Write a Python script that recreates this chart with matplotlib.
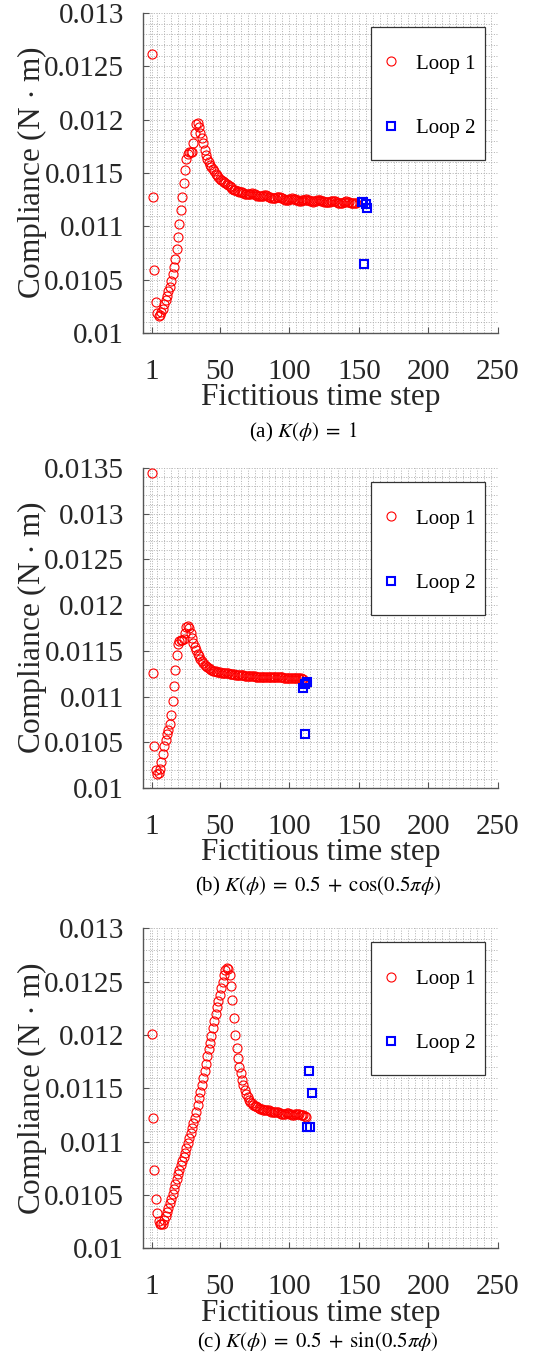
import numpy as np
import matplotlib
matplotlib.use("Agg")
import matplotlib.pyplot as plt
from matplotlib.ticker import MultipleLocator, FixedLocator
from matplotlib.patches import Rectangle

plt.rcParams['font.family'] = ['Liberation Serif', 'DejaVu Serif']
plt.rcParams['mathtext.fontset'] = 'stix'

# compliance values in units of 1e-6 N*m, one per fictitious time step
loop1_a = [12620, 11280, 10590, 10295, 10185, 10160, 10165, 10200, 10230, 10270,
           10310, 10350, 10390, 10435, 10490, 10550, 10615, 10690, 10790, 10900,
           11020, 11150, 11280, 11410, 11530, 11630, 11680, 11700, 11700, 11700,
           11780, 11880, 11960, 11970, 11930, 11880, 11830, 11780, 11720, 11670,
           11630, 11600, 11580, 11555, 11535, 11515, 11495, 11478, 11462, 11448,
           11436, 11425, 11415, 11405, 11395, 11385, 11375, 11365, 11355, 11345,
           11338, 11332, 11328, 11325, 11322, 11318, 11312, 11306, 11302, 11300,
           11302, 11306, 11310, 11308, 11302, 11295, 11288, 11283, 11281, 11282,
           11286, 11290, 11290, 11286, 11280, 11273, 11267, 11264, 11264, 11267,
           11272, 11275, 11273, 11268, 11262, 11256, 11251, 11249, 11250, 11254,
           11259, 11262, 11260, 11255, 11249, 11243, 11240, 11240, 11243, 11248,
           11252, 11253, 11250, 11245, 11239, 11235, 11233, 11234, 11238, 11243,
           11246, 11245, 11241, 11235, 11230, 11227, 11226, 11228, 11232, 11237,
           11240, 11239, 11235, 11229, 11224, 11221, 11220, 11222, 11226, 11231,
           11234, 11233, 11229, 11224, 11220, 11218, 11218, 11220]
loop2_a_x = [154, 152, 153, 155, 156]
loop2_a = [10647, 11231, 11225, 11207, 11175]

loop1_b = [13450, 11260, 10460, 10200, 10150, 10160, 10210, 10290, 10375, 10460,
           10530, 10590, 10640, 10700, 10800, 10950, 11120, 11290, 11450, 11570,
           11610, 11620, 11615, 11630, 11700, 11765, 11770, 11745, 11695, 11640,
           11590, 11545, 11505, 11470, 11440, 11415, 11390, 11370, 11350, 11335,
           11322, 11310, 11300, 11292, 11285, 11280, 11276, 11272, 11268, 11265,
           11263, 11262, 11260, 11258, 11256, 11254, 11252, 11249, 11246, 11243,
           11241, 11239, 11237, 11236, 11235, 11233, 11231, 11229, 11227, 11226,
           11225, 11224, 11223, 11222, 11220, 11219, 11218, 11217, 11216, 11215,
           11214, 11213, 11212, 11211, 11210, 11210, 11211, 11211, 11210, 11210,
           11209, 11209, 11210, 11210, 11209, 11208, 11208, 11208, 11208, 11207,
           11206, 11205, 11204, 11203, 11202, 11201, 11200, 11198, 11194, 11189]
loop2_b_x = [111, 110, 111.5, 112.5]
loop2_b = [10587, 11097, 11134, 11156]

loop1_c = [12010, 11220, 10735, 10465, 10330, 10260, 10230, 10225, 10232, 10265,
           10300, 10340, 10375, 10422, 10466, 10510, 10555, 10600, 10648, 10694,
           10738, 10780, 10820, 10858, 10898, 10944, 10990, 11038, 11082, 11130,
           11177, 11225, 11280, 11340, 11405, 11468, 11531, 11598, 11665, 11730,
           11800, 11868, 11928, 11995, 12065, 12130, 12195, 12258, 12320, 12378,
           12438, 12500, 12560, 12605, 12625, 12622, 12560, 12455, 12330, 12160,
           12000, 11880, 11780, 11700, 11640, 11580, 11530, 11485, 11450, 11420,
           11395, 11375, 11360, 11348, 11338, 11330, 11322, 11315, 11308, 11302,
           11298, 11298, 11300, 11298, 11292, 11285, 11278, 11275, 11276, 11280,
           11282, 11278, 11270, 11262, 11258, 11258, 11262, 11266, 11266, 11262,
           11256, 11252, 11252, 11256, 11260, 11260, 11256, 11250, 11246, 11246,
           11242, 11232]
loop2_c_x = [114, 116, 112.5, 114.5]
loop2_c = [11662, 11453, 11140, 11140]

captions = [r'(a) $K(\phi)\;=\;1$',
            r'(b) $K(\phi)\;=\;0.5\;+\;\cos(0.5\pi\phi)$',
            r'(c) $K(\phi)\;=\;0.5\;+\;\sin(0.5\pi\phi)$']
ytops = [0.013, 0.0135, 0.013]
xticks = [1, 50, 100, 150, 200, 250]

panels = [(loop1_a, loop2_a_x, loop2_a), (loop1_b, loop2_b_x, loop2_b), (loop1_c, loop2_c_x, loop2_c)]
bottoms = [0.7560, 0.4227, 0.0855]
cap_y = [1 - 432/1365, 1 - 886/1365, 1 - 1342/1365]
cap_x = [303/538, 318/538, 318/538]

fig = plt.figure(figsize=(5.38, 13.65), dpi=100)

for i in range(3):
  l1, x2, l2 = panels[i]
  ax = fig.add_axes([0.2664, bottoms[i], 0.6593, 0.2344])
  x1 = np.arange(1, len(l1) + 1)
  ax.plot(x1, np.array(l1) * 1e-6, 'o', color='red', mfc='none', ms=6.5, mew=0.8, label='Loop 1')
  ax.plot(x2, np.array(l2) * 1e-6, 's', color='blue', mfc='none', ms=5.5, mew=1.5, label='Loop 2')

  ax.set_xlim(-5, 250)
  ax.set_ylim(0.01, ytops[i])
  ax.xaxis.set_major_locator(FixedLocator(xticks))
  ax.xaxis.set_minor_locator(MultipleLocator(5))
  yt = list(np.round(np.arange(0.01, ytops[i] + 1e-9, 0.0005), 5))
  ax.set_yticks(yt)
  ax.set_yticklabels(['%g' % v for v in yt])
  ax.yaxis.set_minor_locator(MultipleLocator(0.0001))
  ax.grid(True, which='both', linestyle=':', color='#b0b0b0', linewidth=0.7)
  ax.set_axisbelow(True)
  for s in ['top', 'right']:
    ax.spines[s].set_visible(False)
  for s in ['left', 'bottom']:
    ax.spines[s].set_color('#555555')
    ax.spines[s].set_linewidth(1.0)
  ax.tick_params(which='major', direction='in', length=4, width=0.8, color='#555555',
                 labelsize=21, labelcolor='#262626')
  ax.tick_params(axis='x', which='major', pad=18.5)
  ax.tick_params(axis='y', which='major', pad=14)
  ax.tick_params(which='minor', length=0)

  ax.set_xlabel('Fictitious time step', fontsize=22.5, color='#262626', labelpad=-1)
  ax.set_ylabel(r'Compliance (N$\,\cdot\,$m)', fontsize=22.5, color='#262626', labelpad=-3.5)

  # legend frame drawn as a box, entries placed inside it
  box = Rectangle((0.642, 0.541), 0.321, 0.415, transform=ax.transAxes, facecolor='white',
                  edgecolor='#333333', linewidth=0.9, zorder=5)
  ax.add_patch(box)
  leg = ax.legend(loc='upper left', bbox_to_anchor=(0.687, 0.872), fontsize=15,
                  labelspacing=2.15, borderpad=0, borderaxespad=0, handlelength=0.4,
                  handletextpad=1.0, frameon=False)
  leg.set_zorder(6)

  fig.text(cap_x[i], cap_y[i], captions[i], fontsize=15, ha='center', va='center')

plt.savefig('out.png', dpi=100)
